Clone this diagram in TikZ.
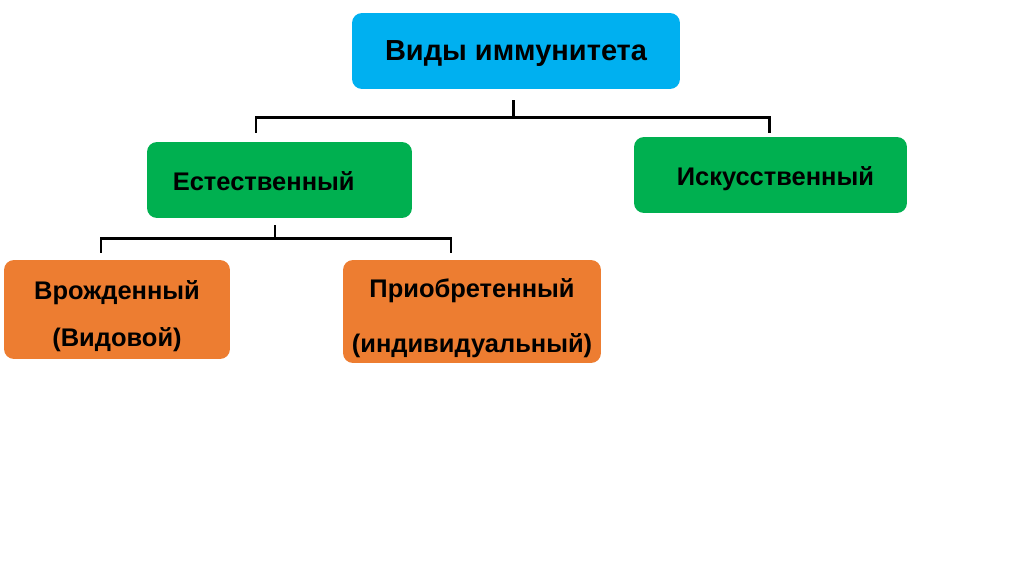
\documentclass[tikz,border=0pt]{standalone}
\usepackage{fontspec}
\setmainfont{Liberation Sans}
\definecolor{topblue}{HTML}{00B0F0}
\definecolor{kindgreen}{HTML}{00B050}
\definecolor{subor}{HTML}{ED7D31}
\newcommand\nudged[2]{\raisebox{#1}[\height][\depth]{#2}}
\newcommand\twolines[3]{\raisebox{#1}[0pt][0pt]{\begin{tabular}{@{}c@{}}#2\\#3\end{tabular}}}
\tikzset{
  kind/.style={rounded corners=0.2cm, inner sep=0pt, align=center, font=\bfseries\fontsize{14.5}{27}\selectfont},
  branch/.style={line width=1.7pt}
}
\begin{document}
\begin{tikzpicture}[x=0.02cm, y=-0.02cm]
  \useasboundingbox (0,0) rectangle (1024,574);
  \node[kind, fill=topblue, minimum width=6.56cm, minimum height=1.52cm, font=\bfseries\fontsize{16.5}{20}\selectfont] (top) at (516,51) {\nudged{-1.7pt}{Виды иммунитета}};
  \node[kind, fill=kindgreen, minimum width=5.3cm, minimum height=1.52cm] (nat) at (279.5,180) {\nudged{-0.6pt}{Естественный\hspace*{18pt}}};
  \node[kind, fill=kindgreen, minimum width=5.46cm, minimum height=1.52cm] (art) at (770.5,175) {\nudged{-2.3pt}{\hspace*{5.6pt}Искусственный}};
  \node[kind, fill=subor, minimum width=4.52cm, minimum height=1.98cm] (inn) at (117,309.5) {\twolines{-5.9pt}{Врожденный}{(Видовой)}};
  \node[kind, fill=subor, minimum width=5.16cm, minimum height=2.06cm, font=\bfseries\fontsize{14.5}{31}\selectfont] (acq) at (472,311.5) {\twolines{-5pt}{Приобретенный}{(индивидуальный)}};
  \draw[branch] ([shift={(-3,11)}]top.south) -- ++(0,17) -| ([shift={(-23.5,-9)}]nat.north);
  \draw[branch] ([shift={(-3,28)}]top.south) -| ([shift={(-1.5,-4)}]art.north);
  \draw[branch] ([shift={(-4.5,7)}]nat.south) -- ++(0,13) -| ([shift={(-16,-7)}]inn.north);
  \draw[branch] ([shift={(-4.5,20)}]nat.south) -| ([shift={(-21,-7)}]acq.north);
\end{tikzpicture}
\end{document}
